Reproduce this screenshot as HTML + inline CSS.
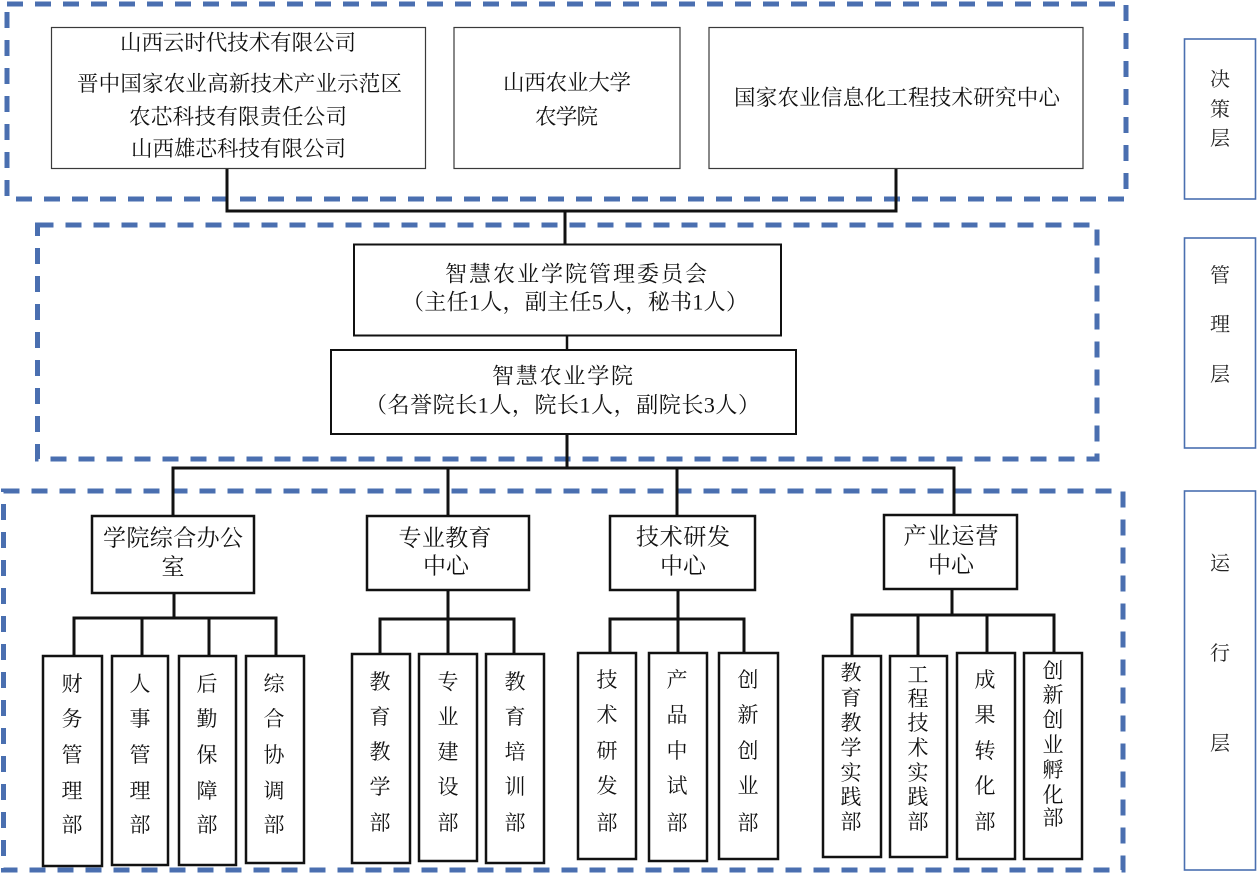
<!DOCTYPE html>
<html><head><meta charset="utf-8"><style>
html,body{margin:0;padding:0;background:#fff;}
svg{display:block;}
text{font-family:"Liberation Serif","Noto Serif CJK SC",serif;fill:#111;dominant-baseline:central;text-anchor:middle;}
.t{font-size:21.5px;}
.m{font-size:22px;}
.c{font-size:23px;}
.s{font-size:21px;}
.l{font-size:20px;fill:#222;}
.dash{fill:none;stroke:#4a6fb0;stroke-width:5;stroke-dasharray:16 12;}
.lab{fill:none;stroke:#4a6fb0;stroke-width:1.6;}
.bt{fill:#fff;stroke:#3a3a3a;stroke-width:1.2;}
.bm{fill:#fff;stroke:#111;stroke-width:2;}
.bo{fill:#fff;stroke:#111;stroke-width:2.5;}
.ln{fill:none;stroke:#111;stroke-width:3;}
</style></head><body>
<svg width="1258" height="873" viewBox="0 0 1258 873" xmlns="http://www.w3.org/2000/svg">
<!-- dashed layer boxes -->
<rect class="dash" x="7" y="4" width="1119" height="195"/>
<rect class="dash" x="37.5" y="225" width="1059.5" height="234"/>
<rect class="dash" x="3.5" y="491" width="1119.5" height="379"/>

<!-- label boxes -->
<rect class="lab" x="1184.5" y="39" width="71" height="160"/>
<rect class="lab" x="1184.5" y="238" width="71" height="210"/>
<rect class="lab" x="1184.5" y="491" width="71" height="379"/>
<text class="l" x="1220" y="80">决</text>
<text class="l" x="1220" y="110">策</text>
<text class="l" x="1220" y="139">层</text>
<text class="l" x="1220" y="276">管</text>
<text class="l" x="1220" y="325">理</text>
<text class="l" x="1220" y="375">层</text>
<text class="l" x="1220" y="564">运</text>
<text class="l" x="1220" y="654">行</text>
<text class="l" x="1220" y="744">层</text>

<!-- top connectors -->
<polyline class="ln" points="227,169 227,211 896,211 896,169"/>
<line class="ln" x1="565" y1="211" x2="565" y2="244"/>

<!-- top boxes -->
<rect class="bt" x="51.5" y="27.5" width="374" height="141"/>
<rect class="bt" x="454" y="27.5" width="226" height="141"/>
<rect class="bt" x="709" y="27.5" width="374" height="141"/>
<text class="t" x="238" y="43" textLength="236" lengthAdjust="spacing">山西云时代技术有限公司</text>
<text class="t" x="239.5" y="84" textLength="325" lengthAdjust="spacing">晋中国家农业高新技术产业示范区</text>
<text class="t" x="238" y="117" textLength="218" lengthAdjust="spacing">农芯科技有限责任公司</text>
<text class="t" x="238.5" y="149" textLength="215" lengthAdjust="spacing">山西雄芯科技有限公司</text>
<text class="t" x="567" y="83" textLength="128" lengthAdjust="spacing">山西农业大学</text>
<text class="t" x="566.5" y="117" textLength="63" lengthAdjust="spacing">农学院</text>
<text class="t" x="897" y="98" textLength="326" lengthAdjust="spacing">国家农业信息化工程技术研究中心</text>

<!-- management -->
<line class="ln" x1="567" y1="336" x2="567" y2="350" style="stroke-width:2.5"/>
<polyline class="ln" points="567,434 567,468"/>
<polyline class="ln" points="173,516 173,468 954,468 954,515"/>
<line class="ln" x1="448" y1="468" x2="448" y2="516"/>
<line class="ln" x1="677" y1="468" x2="677" y2="516"/>
<rect class="bm" x="354" y="244.5" width="427" height="91"/>
<rect class="bm" x="331" y="350" width="465" height="84"/>
<text class="m" x="576" y="274" textLength="262" lengthAdjust="spacing">智慧农业学院管理委员会</text>
<text class="m" x="575" y="302" textLength="346" lengthAdjust="spacing">（主任1人，副主任5人，秘书1人）</text>
<text class="m" x="562.5" y="376" textLength="141" lengthAdjust="spacing">智慧农业学院</text>
<text class="m" x="562.5" y="405" textLength="395" lengthAdjust="spacing">（名誉院长1人，院长1人，副院长3人）</text>

<!-- branch connectors -->
<line class="ln" x1="174" y1="593" x2="174" y2="618"/>
<polyline class="ln" points="74,656 74,618 276,618 276,656"/>
<line class="ln" x1="142" y1="618" x2="142" y2="656"/>
<line class="ln" x1="209" y1="618" x2="209" y2="656"/>

<line class="ln" x1="448" y1="590" x2="448" y2="654"/>
<polyline class="ln" points="380,654 380,619 514,619 514,654"/>

<line class="ln" x1="678" y1="590" x2="678" y2="653"/>
<polyline class="ln" points="610,653 610,619 744,619 744,653"/>

<line class="ln" x1="952" y1="589" x2="952" y2="615"/>
<polyline class="ln" points="852,656 852,615 1054,615 1054,653"/>
<line class="ln" x1="918" y1="615" x2="918" y2="656"/>
<line class="ln" x1="987" y1="615" x2="987" y2="653"/>

<!-- center boxes -->
<rect class="bo" x="92" y="516" width="162" height="77"/>
<text class="c" x="173" y="538" textLength="140" lengthAdjust="spacing">学院综合办公</text>
<text class="c" x="173" y="567">室</text>
<rect class="bo" x="367" y="516" width="162" height="74"/>
<text class="c" x="445" y="538" textLength="93" lengthAdjust="spacing">专业教育</text>
<text class="c" x="446" y="566" textLength="46" lengthAdjust="spacing">中心</text>
<rect class="bo" x="610" y="516" width="145" height="74"/>
<text class="c" x="683" y="537" textLength="94" lengthAdjust="spacing">技术研发</text>
<text class="c" x="683" y="566" textLength="46" lengthAdjust="spacing">中心</text>
<rect class="bo" x="884" y="515" width="133" height="74"/>
<text class="c" x="951" y="536" textLength="95" lengthAdjust="spacing">产业运营</text>
<text class="c" x="951" y="565" textLength="46" lengthAdjust="spacing">中心</text>

<!-- sub boxes -->
<rect class="bo" x="43" y="656" width="59" height="210"/>
<rect class="bo" x="112" y="656" width="56" height="209"/>
<rect class="bo" x="179" y="656" width="57" height="209"/>
<rect class="bo" x="246" y="656" width="58" height="207"/>
<rect class="bo" x="352" y="654" width="58" height="209"/>
<rect class="bo" x="419" y="654" width="58" height="207"/>
<rect class="bo" x="486" y="654" width="58" height="209"/>
<rect class="bo" x="578" y="653" width="58" height="206"/>
<rect class="bo" x="649" y="653" width="58" height="208"/>
<rect class="bo" x="719" y="653" width="59" height="206"/>
<rect class="bo" x="823" y="656" width="58" height="201"/>
<rect class="bo" x="890" y="656" width="57" height="201"/>
<rect class="bo" x="957" y="653" width="58" height="206"/>
<rect class="bo" x="1024" y="653" width="58" height="206"/>

<g class="s">
<text class="s" x="72" y="684">财</text><text class="s" x="72" y="719">务</text><text class="s" x="72" y="755">管</text><text class="s" x="72" y="791">理</text><text class="s" x="72" y="825">部</text>
<text class="s" x="140" y="684">人</text><text class="s" x="140" y="719">事</text><text class="s" x="140" y="755">管</text><text class="s" x="140" y="791">理</text><text class="s" x="140" y="825">部</text>
<text class="s" x="207" y="684">后</text><text class="s" x="207" y="719">勤</text><text class="s" x="207" y="755">保</text><text class="s" x="207" y="791">障</text><text class="s" x="207" y="825">部</text>
<text class="s" x="274" y="684">综</text><text class="s" x="274" y="719">合</text><text class="s" x="274" y="755">协</text><text class="s" x="274" y="791">调</text><text class="s" x="274" y="825">部</text>

<text class="s" x="380" y="682">教</text><text class="s" x="380" y="717">育</text><text class="s" x="380" y="752">教</text><text class="s" x="380" y="787">学</text><text class="s" x="380" y="823">部</text>
<text class="s" x="448" y="682">专</text><text class="s" x="448" y="717">业</text><text class="s" x="448" y="752">建</text><text class="s" x="448" y="787">设</text><text class="s" x="448" y="823">部</text>
<text class="s" x="515" y="682">教</text><text class="s" x="515" y="717">育</text><text class="s" x="515" y="752">培</text><text class="s" x="515" y="787">训</text><text class="s" x="515" y="823">部</text>

<text class="s" x="607" y="680">技</text><text class="s" x="607" y="715">术</text><text class="s" x="607" y="751">研</text><text class="s" x="607" y="786">发</text><text class="s" x="607" y="823">部</text>
<text class="s" x="677" y="680">产</text><text class="s" x="677" y="715">品</text><text class="s" x="677" y="751">中</text><text class="s" x="677" y="786">试</text><text class="s" x="677" y="823">部</text>
<text class="s" x="748" y="680">创</text><text class="s" x="748" y="715">新</text><text class="s" x="748" y="751">创</text><text class="s" x="748" y="786">业</text><text class="s" x="748" y="823">部</text>

<text class="s" x="851" y="673">教</text><text class="s" x="851" y="698">育</text><text class="s" x="851" y="723">教</text><text class="s" x="851" y="748">学</text><text class="s" x="851" y="773">实</text><text class="s" x="851" y="797">践</text><text class="s" x="851" y="822">部</text>
<text class="s" x="918" y="675">工</text><text class="s" x="918" y="699">程</text><text class="s" x="918" y="723">技</text><text class="s" x="918" y="748">术</text><text class="s" x="918" y="773">实</text><text class="s" x="918" y="797">践</text><text class="s" x="918" y="822">部</text>
<text class="s" x="985" y="680">成</text><text class="s" x="985" y="715">果</text><text class="s" x="985" y="751">转</text><text class="s" x="985" y="786">化</text><text class="s" x="985" y="822">部</text>
<text class="s" x="1053" y="671">创</text><text class="s" x="1053" y="695">新</text><text class="s" x="1053" y="720">创</text><text class="s" x="1053" y="745">业</text><text class="s" x="1053" y="770">孵</text><text class="s" x="1053" y="795">化</text><text class="s" x="1053" y="818">部</text>
</g>
</svg>
</body></html>
